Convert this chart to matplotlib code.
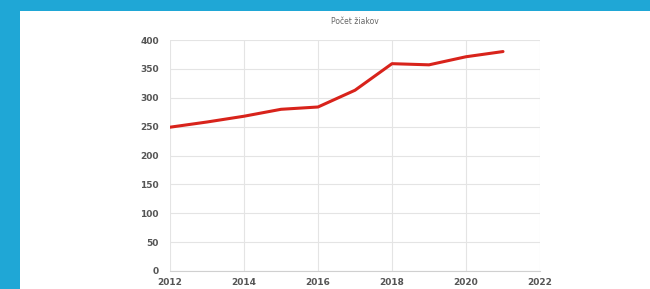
import matplotlib.pyplot as plt
from matplotlib.patches import Rectangle

# Data
years = [2012, 2013, 2014, 2015, 2016, 2017, 2018, 2019, 2020, 2021]
students = [249, 258, 268, 280, 284, 313, 359, 357, 371, 380]
x_ticks = [2012, 2014, 2016, 2018, 2020, 2022]
y_ticks = [0, 50, 100, 150, 200, 250, 300, 350, 400]

fig = plt.figure(figsize=(6.5, 2.89), dpi=100)
fig.patch.set_facecolor('#1fa7d6')

# white panel (drawn behind the axes)
fig.patches.append(Rectangle((20 / 650, 0), 1 - 20 / 650, 1 - 11 / 289,
                             transform=fig.transFigure, facecolor='white',
                             edgecolor='none', zorder=-1))

ax = fig.add_axes([170 / 650, 18 / 289, 370 / 650, 231 / 289])
ax.set_facecolor('white')
ax.plot(years, students, color='#d8231b', lw=2.2, solid_capstyle='round', zorder=3)

ax.set_xlim(2012, 2022)
ax.set_ylim(0, 400)
ax.set_xticks(x_ticks)
ax.set_yticks(y_ticks)
ax.grid(True, color='#e4e4e4', lw=0.8)
for s in ['top', 'right', 'left']:
    ax.spines[s].set_visible(False)
ax.spines['bottom'].set_color('#d0d0d0')
ax.tick_params(length=0, labelsize=6.5, colors='#555555')
ax.tick_params(axis='y', pad=8)
ax.tick_params(axis='x', pad=5)
for lab in ax.get_xticklabels() + ax.get_yticklabels():
    lab.set_fontweight('bold')

fig.text(355 / 650, 1 - 21 / 289, 'Počet žiakov', ha='center', va='center',
         fontsize=5.5, color='#666666')

fig.savefig('out.png', dpi=100, facecolor=fig.get_facecolor())
